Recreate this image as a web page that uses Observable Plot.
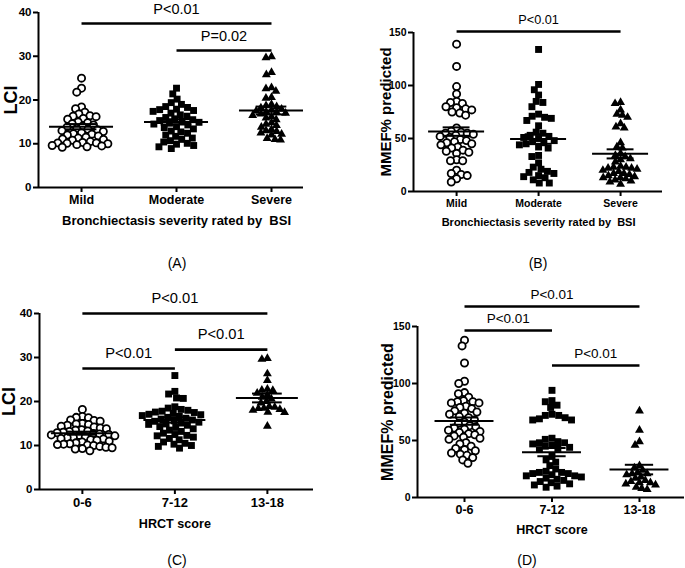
<!DOCTYPE html>
<html><head><meta charset="utf-8">
<script src="https://cdn.jsdelivr.net/npm/d3@7"></script>
<script src="https://cdn.jsdelivr.net/npm/@observablehq/plot@0.6"></script>
<style>
body{margin:0;background:#fff;}
#fig{position:relative;width:685px;height:568px;overflow:hidden;background:#fff;font-family:"Liberation Sans",Arial,sans-serif;}
#fig svg{position:absolute;}
.plabel{position:absolute;font-size:14px;transform:translate(-50%,-50%);color:#000;}
</style></head><body><div id="fig"></div>
<script>
// ---------- categories & ticks ----------
const bsiCategories = ["Mild", "Moderate", "Severe"];
const hrctCategories = ["0-6", "7-12", "13-18"];
const lciTicks = [0, 10, 20, 30, 40];
const mmefTicks = [0, 50, 100, 150];

// ---------- (A) LCI by BSI ----------
const lciBsiMild = [25.0, 22.7, 21.8, 18.4, 18.0, 17.2, 16.8, 16.4, 16.3, 16.2, 15.8, 15.6, 15.0, 14.8, 14.6, 14.3, 14.0, 13.8, 13.5, 13.3, 13.2, 13.0, 12.8, 12.5, 12.3, 12.2, 12.0, 11.8, 11.5, 11.3, 11.1, 11.0, 10.8, 10.5, 10.3, 10.2, 10.2, 10.1, 10.0, 9.8, 9.6, 9.5, 9.3, 9.2];
const lciBsiModerate = [22.7, 21.4, 20.2, 19.4, 19.0, 18.5, 18.3, 17.9, 17.8, 17.6, 17.4, 17.0, 16.6, 16.3, 16.0, 15.7, 15.5, 15.3, 15.1, 14.9, 14.7, 14.5, 14.3, 13.9, 13.7, 13.4, 12.9, 12.7, 12.4, 12.0, 11.7, 11.3, 11.0, 10.7, 10.4, 10.1, 9.9, 9.6, 9.3, 8.9];
const lciBsiSevere = [29.9, 29.7, 26.3, 25.8, 22.8, 22.6, 22.0, 20.6, 20.4, 19.0, 18.7, 18.5, 18.2, 17.9, 17.7, 17.5, 17.3, 17.2, 17.0, 16.8, 16.5, 16.2, 15.9, 15.5, 14.8, 14.5, 14.2, 13.8, 13.3, 13.0, 12.8, 12.5, 12.2, 12.0, 11.2, 11.0, 10.9];
const lciBsiMeans = [13.9, 15.0, 17.6];
const lciBsiSems = [0.6, 0.6, 0.9];
const lciBsiBrackets = [
  {from: "Mild", to: "Severe", y: 37.5, label: "P<0.01"},
  {from: "Moderate", to: "Severe", y: 31.3, label: "P=0.02"}
];

// ---------- (B) MMEF by BSI ----------
const mmefBsiMild = [139, 118, 99, 92, 85, 84, 83, 80, 79, 78, 77, 75, 74, 72, 60, 57, 56, 55, 55, 54, 53, 52, 51, 49, 48, 47, 46, 45, 44, 42, 41, 39, 38, 37, 36, 30, 29, 29, 20, 17, 16, 15, 12, 9];
const mmefBsiModerate = [134, 101, 96, 91, 85, 84, 80, 73, 71, 70, 69, 67, 62, 56, 55, 53, 52, 51, 50, 48, 47, 46, 45, 44, 42, 41, 34, 33, 27, 23, 21, 19, 18, 17, 15, 14, 13, 11, 8, 8];
const mmefBsiSevere = [84, 83, 77, 73, 72, 70, 64, 61, 60, 46, 42, 41, 36, 34, 33, 31, 30, 28, 24, 23, 23, 22, 22, 21, 20, 19, 17, 17, 16, 15, 14, 13, 13, 12, 11, 10, 9, 7];
const mmefBsiMeans = [56.5, 49.5, 35.5];
const mmefBsiSems = [4.0, 4.5, 4.3];
const mmefBsiBrackets = [
  {from: "Mild", to: "Severe", y: 151, label: "P<0.01"}
];

// ---------- (C) LCI by HRCT ----------
const lciHrctLow = [18.2, 16.6, 16.4, 16.3, 15.8, 15.7, 15.5, 15.0, 14.9, 14.8, 14.6, 14.4, 14.2, 14.0, 13.8, 13.6, 13.5, 13.3, 13.2, 13.0, 12.9, 12.7, 12.6, 12.5, 12.4, 12.3, 12.2, 12.0, 11.9, 11.8, 11.6, 11.5, 11.3, 11.2, 11.0, 10.8, 10.6, 10.4, 10.3, 10.2, 10.1, 10.0, 9.8, 9.6, 9.5, 9.3, 9.2, 8.8];
const lciHrctMid = [25.9, 22.3, 21.7, 20.8, 20.7, 18.8, 18.5, 18.2, 18.0, 17.8, 17.6, 17.5, 17.3, 17.1, 17.0, 16.8, 16.6, 16.4, 16.2, 16.0, 15.8, 15.6, 15.5, 15.3, 15.1, 14.9, 14.8, 14.6, 14.3, 14.1, 13.8, 13.5, 13.2, 12.8, 12.5, 12.3, 12.2, 11.9, 11.6, 11.3, 10.8, 10.5, 10.3, 10.0, 9.8, 9.4];
const lciHrctHigh = [29.8, 29.6, 26.3, 24.8, 22.8, 22.6, 22.5, 21.9, 21.5, 21.0, 20.6, 20.0, 19.7, 18.9, 18.7, 18.5, 18.4, 18.2, 18.0, 17.6, 17.5, 14.4];
const lciHrctMeans = [12.8, 15.8, 20.8];
const lciHrctSems = [0.35, 0.6, 1.0];
const lciHrctBrackets = [
  {from: "0-6", to: "13-18", y: 40, label: "P<0.01"},
  {from: "7-12", to: "13-18", y: 31.8, label: "P<0.01"},
  {from: "0-6", to: "7-12", y: 27.5, label: "P<0.01"}
];

// ---------- (D) MMEF by HRCT ----------
const mmefHrctLow = [138, 133, 118, 102, 100, 92, 91, 88, 85, 84, 84, 83, 83, 80, 79, 78, 76, 75, 74, 73, 71, 70, 68, 66, 65, 63, 62, 61, 60, 59, 58, 57, 56, 55, 54, 53, 52, 51, 48, 47, 45, 43, 42, 41, 39, 38, 37, 35, 33, 30];
const mmefHrctMid = [94, 85, 84, 81, 79, 73, 72, 72, 70, 69, 68, 68, 52, 51, 49, 48, 48, 47, 46, 45, 44, 43, 42, 36, 33, 31, 28, 25, 23, 22, 22, 21, 21, 20, 19, 19, 18, 17, 16, 15, 14, 13, 12, 11, 10, 9];
const mmefHrctHigh = [76, 59, 49, 46, 28, 26, 24, 22, 21, 21, 20, 18, 17, 15, 14, 13, 13, 12, 11, 9, 8, 7];
const mmefHrctMeans = [67, 39.8, 24.5];
const mmefHrctSems = [3.2, 3.6, 4.2];
const mmefHrctBrackets = [
  {from: "0-6", to: "13-18", y: 167.5, label: "P<0.01"},
  {from: "0-6", to: "7-12", y: 146.5, label: "P<0.01"},
  {from: "7-12", to: "13-18", y: 115.8, label: "P<0.01"}
];

// ---------- drawing ----------
const fig = document.getElementById("fig");
const symbolStyles = [
  {symbol: "circle", fill: "white", stroke: "black", strokeWidth: 1.8, r: 3.6},
  {symbol: "square", fill: "black", r: 3.9},
  {symbol: "triangle", fill: "black", r: 3.3}
];

function drawPanel(cfg) {
  const {cats, groups, means, sems, ticks, yLabel, xLabel, brackets, box, m, band, f, letter} = cfg;
  const rows = groups.flatMap((vals, i) => vals.map(v => ({group: cats[i], value: v})));
  const stats = cats.map((c, i) => ({group: c, mean: means[i], lo: means[i] - sems[i], hi: means[i] + sems[i]}));
  const yMax = ticks[ticks.length - 1];
  const common = {
    width: box.w, height: box.h,
    marginLeft: m.l, marginRight: m.r, marginTop: m.t, marginBottom: m.b,
    style: {background: "transparent", overflow: "visible", fontFamily: "Liberation Sans, Arial, sans-serif"}
  };
  const bs = d3.scaleBand(cats, [m.l, box.w - m.r]).paddingInner(band.pi).paddingOuter(band.po).align(band.align);
  const bw = bs.bandwidth();
  const semInset = bw * 0.26;

  const dots = Plot.plot({
    ...common,
    fx: {domain: cats, paddingInner: band.pi, paddingOuter: band.po, align: band.align, round: false, axis: null},
    y: {domain: [0, yMax], axis: null},
    marks: [
      ...cats.map((c, i) => Plot.dot(rows.filter(d => d.group === c),
        Plot.dodgeX({anchor: "middle", padding: band.pad}, {fx: "group", y: "value", ...symbolStyles[i]}))),
      Plot.tickY(stats, {fx: "group", y: "mean", stroke: "black", strokeWidth: 2}),
      Plot.tickY(stats, {fx: "group", y: "lo", stroke: "black", strokeWidth: 2, insetLeft: semInset, insetRight: semInset}),
      Plot.tickY(stats, {fx: "group", y: "hi", stroke: "black", strokeWidth: 2, insetLeft: semInset, insetRight: semInset}),
      Plot.ruleX(stats, {fx: "group", y1: "lo", y2: "hi", stroke: "black", strokeWidth: 2})
    ]
  });

  const c0 = bs(cats[0]) + bw / 2, step = bs.step();
  const xDomain = [(m.l - c0) / step, (box.w - m.r - c0) / step];
  const idx = c => cats.indexOf(c);
  const overlay = Plot.plot({
    ...common,
    x: {domain: xDomain},
    y: {domain: [0, yMax]},
    marks: [
      Plot.ruleY([0], {stroke: "black", strokeWidth: 2}),
      Plot.ruleX([xDomain[0]], {stroke: "black", strokeWidth: 2}),
      Plot.axisY({ticks, tickSize: 5, tickPadding: 2, strokeWidth: 2, label: null, fontSize: f.tick, fontWeight: "bold"}),
      Plot.axisX({ticks: cats.map((c, i) => i), tickFormat: i => cats[i], tickSize: 5, tickPadding: 3, strokeWidth: 2, label: null, fontSize: f.cat, fontWeight: "bold"}),
      Plot.text([yLabel], {frameAnchor: "left", dx: f.ydx, rotate: -90, textAnchor: "middle", fontSize: f.ylab, fontWeight: "bold", fill: "black"}),
      Plot.text([xLabel], {x: 1, y: 0, dy: f.xdy, fontSize: f.xlab, fontWeight: "bold", fill: "black"}),
      Plot.link(brackets, {x1: d => idx(d.from), x2: d => idx(d.to), y1: "y", y2: "y", stroke: "black", strokeWidth: 2.6}),
      Plot.text(brackets, {x: d => (idx(d.from) + idx(d.to)) / 2, y: "y", dy: f.pdy, text: "label", fontSize: f.p, fontWeight: "normal", fill: "black"})
    ]
  });

  for (const svg of [dots, overlay]) {
    svg.style.left = box.x + "px";
    svg.style.top = box.y + "px";
    fig.appendChild(svg);
  }
  const lab = document.createElement("div");
  lab.className = "plabel";
  lab.textContent = letter.text;
  lab.style.left = letter.x + "px";
  lab.style.top = letter.y + "px";
  fig.appendChild(lab);
}

drawPanel({
  cats: bsiCategories, groups: [lciBsiMild, lciBsiModerate, lciBsiSevere],
  means: lciBsiMeans, sems: lciBsiSems, ticks: lciTicks,
  yLabel: "LCI", xLabel: "Bronchiectasis severity rated by  BSI", brackets: lciBsiBrackets,
  box: {x: 0, y: 0, w: 340, h: 250}, m: {l: 38, r: 37, t: 12, b: 63},
  band: {pi: 0.326, po: 0.058, align: 1, pad: -1},
  f: {tick: 11.5, cat: 12.5, xlab: 13, ylab: 18, p: 14.5, ydx: -27, xdy: 33, pdy: -14},
  letter: {text: "(A)", x: 177, y: 263}
});
drawPanel({
  cats: bsiCategories, groups: [mmefBsiMild, mmefBsiModerate, mmefBsiSevere],
  means: mmefBsiMeans, sems: mmefBsiSems, ticks: mmefTicks,
  yLabel: "MMEF% predicted", xLabel: "Bronchiectasis severity rated by  BSI", brackets: mmefBsiBrackets,
  box: {x: 340, y: 0, w: 345, h: 250}, m: {l: 73, r: 23, t: 32, b: 59},
  band: {pi: 0.317, po: 0.177, align: 0.52, pad: -1},
  f: {tick: 10.5, cat: 10.5, xlab: 11, ylab: 15, p: 12.7, ydx: -27, xdy: 31, pdy: -12},
  letter: {text: "(B)", x: 538, y: 263}
});
drawPanel({
  cats: hrctCategories, groups: [lciHrctLow, lciHrctMid, lciHrctHigh],
  means: lciHrctMeans, sems: lciHrctSems, ticks: lciTicks,
  yLabel: "LCI", xLabel: "HRCT score", brackets: lciHrctBrackets,
  box: {x: 0, y: 290, w: 340, h: 260}, m: {l: 39, r: 27, t: 23, b: 61},
  band: {pi: 0.33, po: 0.146, align: 0.44, pad: -1},
  f: {tick: 11.5, cat: 13, xlab: 12.6, ylab: 18, p: 14.7, ydx: -30, xdy: 34, pdy: -15},
  letter: {text: "(C)", x: 177, y: 560}
});
drawPanel({
  cats: hrctCategories, groups: [mmefHrctLow, mmefHrctMid, mmefHrctHigh],
  means: mmefHrctMeans, sems: mmefHrctSems, ticks: mmefTicks,
  yLabel: "MMEF% predicted", xLabel: "HRCT score", brackets: mmefHrctBrackets,
  box: {x: 340, y: 290, w: 345, h: 260}, m: {l: 77, r: 1, t: 36, b: 53},
  band: {pi: 0.326, po: 0.189, align: 0.53, pad: -1},
  f: {tick: 10.5, cat: 12.5, xlab: 12.5, ylab: 16, p: 13.5, ydx: -30, xdy: 32, pdy: -12},
  letter: {text: "(D)", x: 527, y: 560}
});
</script></body></html>
